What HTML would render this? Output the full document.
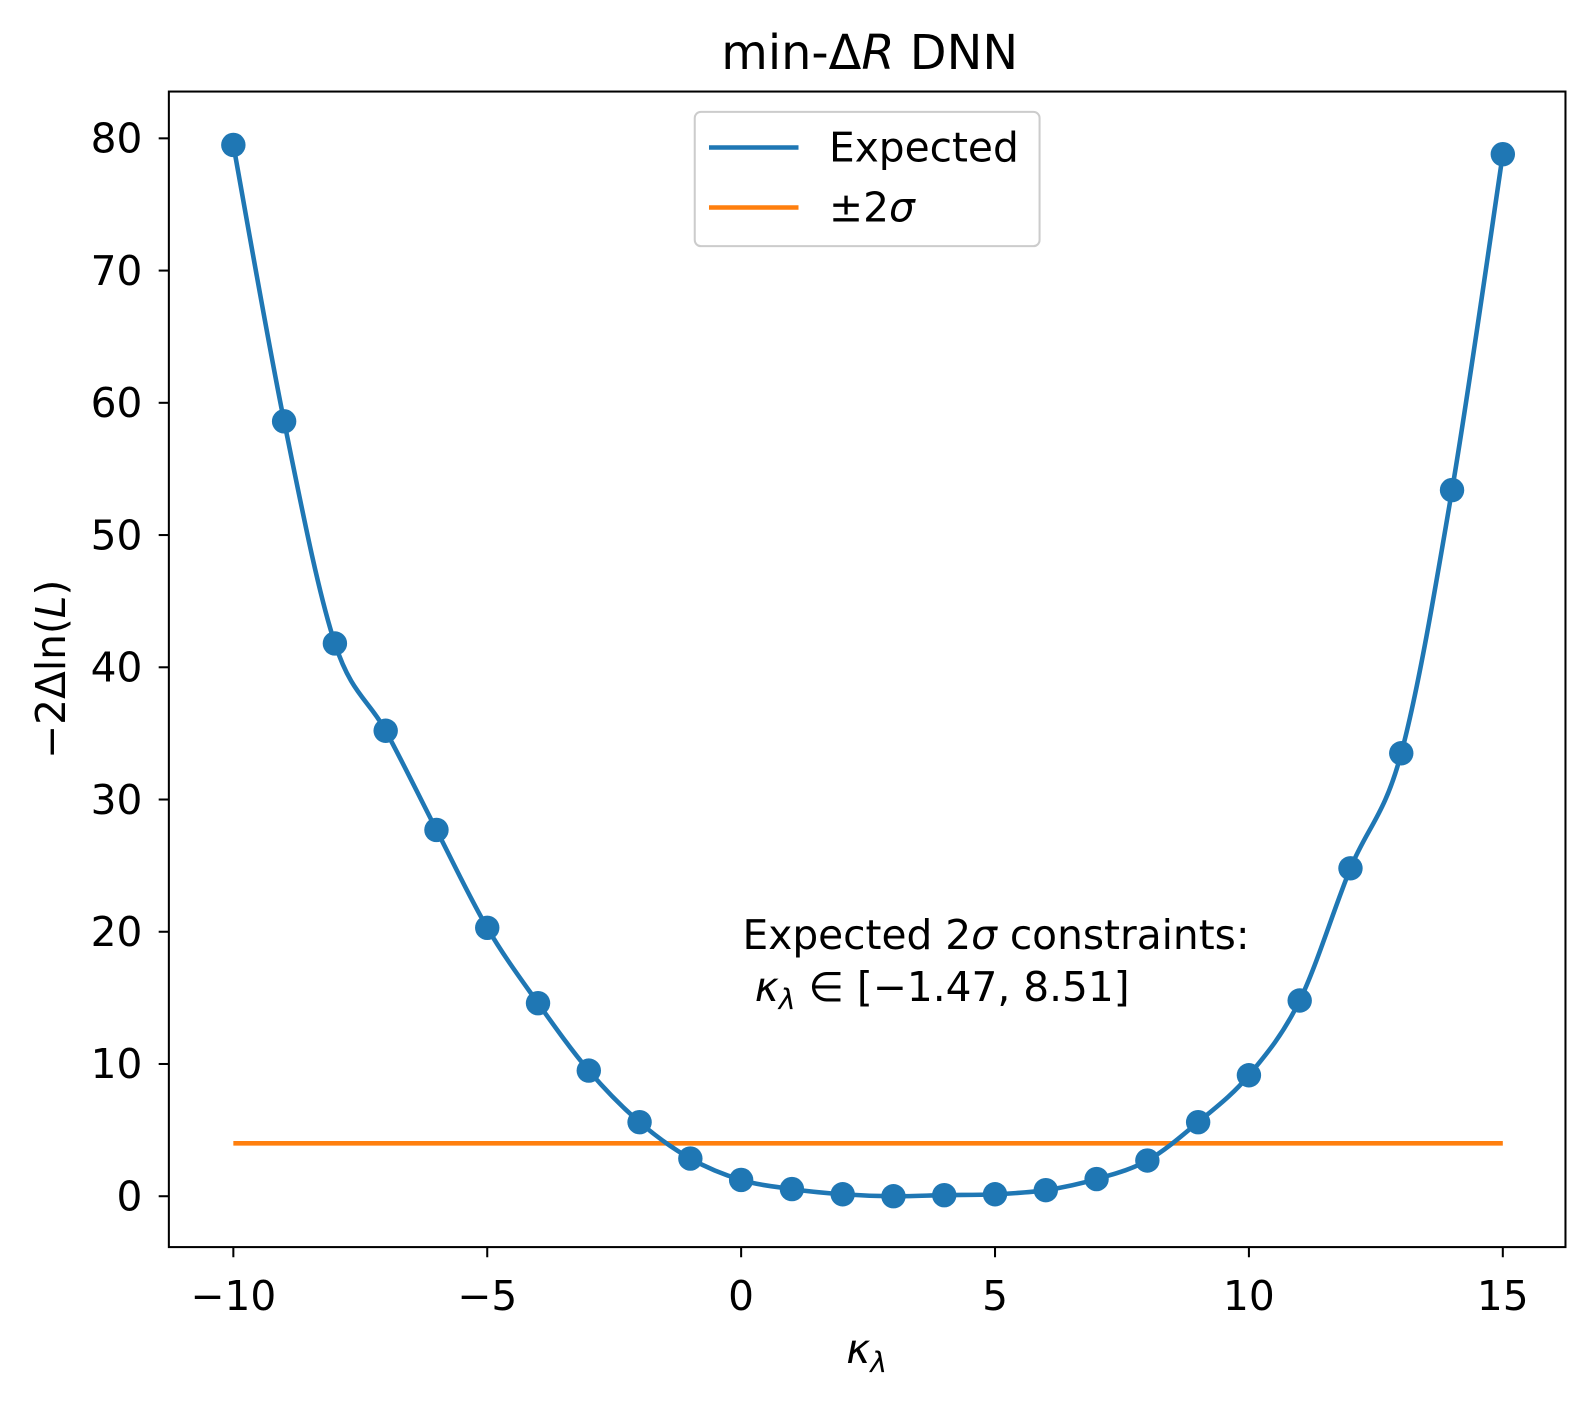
<!DOCTYPE html>
<html><head><meta charset="utf-8"><style>
html,body{margin:0;padding:0;background:#fff;overflow:hidden;}
svg{display:block;font-family:"DejaVu Sans","Liberation Sans",sans-serif;}
</style></head><body>
<svg id="chart" width="1593" height="1403" viewBox="0 0 1593 1403" xmlns="http://www.w3.org/2000/svg">
<rect width="1593" height="1403" fill="#fff"/>
<g transform="scale(1.0172)">
<text x="855" y="68" font-size="47" text-anchor="middle">min-Δ<tspan font-style="italic">R</tspan> DNN</text>
<g id="plot"></g>
<rect x="166" y="90" width="1373" height="1136" fill="none" stroke="#000" stroke-width="2"/>
<text x="852" y="1340" font-size="40" text-anchor="middle" font-style="italic">κ<tspan font-size="28" dy="9">λ</tspan></text>
<text transform="translate(64,658) rotate(-90)" font-size="40" text-anchor="middle">−2Δln(<tspan font-style="italic">L</tspan>)</text>
<g>
<rect x="683" y="110" width="339" height="132" rx="6" fill="#fff" fill-opacity="0.8" stroke="#ccc" stroke-width="2"/>
<line x1="697" y1="145" x2="785" y2="145" stroke="#1f77b4" stroke-width="4.5"/>
<text x="815" y="159" font-size="40">Expected</text>
<line x1="697" y1="204" x2="785" y2="204" stroke="#ff7f0e" stroke-width="4.5"/>
<text x="815" y="218" font-size="40">±2<tspan font-style="italic">σ</tspan></text>
</g>
<text x="730" y="933" font-size="40">Expected 2<tspan font-style="italic">σ</tspan> constraints:</text>
<text x="742" y="984" font-size="40"><tspan font-style="italic">κ</tspan><tspan font-size="28" dy="8" font-style="italic">λ</tspan><tspan dy="-8"> ∈ [−1.47, 8.51]</tspan></text>
</g>
</svg>
<script>
const kappa = [-10,-9,-8,-7,-6,-5,-4,-3,-2,-1,0,1,2,3,4,5,6,7,8,9,10,11,12,13,14,15];
const nll = [79.5,58.6,41.8,35.2,27.7,20.3,14.6,9.5,5.6,2.85,1.23,0.54,0.15,0,0.08,0.15,0.46,1.3,2.7,5.6,9.15,14.8,24.8,33.5,53.4,78.8];
const threshold = 4;
const xTicks = [-10,-5,0,5,10,15];
const xTickLabels = ["−10","−5","0","5","10","15"];
const yTicks = [0,10,20,30,40,50,60,70,80];
const yTickLabels = ["0","10","20","30","40","50","60","70","80"];

const NS="http://www.w3.org/2000/svg";
const X = v => 728.6 + v*49.92;
const Y = v => 1176 - v*13;
const g = document.getElementById('plot');
function mk(t, a){const e=document.createElementNS(NS,t);for(const k in a)e.setAttribute(k,a[k]);g.appendChild(e);return e;}

xTicks.forEach((t,i)=>{
  const l=mk('line',{x1:X(t),x2:X(t),y1:1226,y2:1236,stroke:'#000','stroke-width':2});
  
  
  const tx=mk('text',{x:X(t),y:1288,'font-size':40,'text-anchor':'middle'});
  tx.textContent=xTickLabels[i];
  
  
});
yTicks.forEach((t,i)=>{
  const l=mk('line',{x1:156,x2:166,y1:Y(t),y2:Y(t),stroke:'#000','stroke-width':2});
  
  
  const tx=mk('text',{x:140,y:Y(t)+14,'font-size':40,'text-anchor':'end'});
  tx.textContent=yTickLabels[i];
  
  
});

const hl=mk('line',{x1:X(kappa[0]),x2:X(kappa[kappa.length-1]),y1:Y(threshold),y2:Y(threshold),stroke:'#ff7f0e','stroke-width':4.5});



const pts=kappa.map((k,i)=>[X(k),Y(nll[i])]);
let d=`M${pts[0][0]},${pts[0][1]}`;
for(let i=0;i<pts.length-1;i++){
  const p0=pts[Math.max(0,i-1)],p1=pts[i],p2=pts[i+1],p3=pts[Math.min(pts.length-1,i+2)];
  const c1=[p1[0]+(p2[0]-p0[0])/6,p1[1]+(p2[1]-p0[1])/6];
  const c2=[p2[0]-(p3[0]-p1[0])/6,p2[1]-(p3[1]-p1[1])/6];
  d+=` C${c1[0]},${c1[1]} ${c2[0]},${c2[1]} ${p2[0]},${p2[1]}`;
}
const path=mk('path',{d:d,fill:'none',stroke:'#1f77b4','stroke-width':4.5});



pts.forEach(p=>{
  const c=mk('circle',{cx:p[0],cy:p[1],r:12,fill:'#1f77b4'});
  
  
});
</script>
</body></html>
